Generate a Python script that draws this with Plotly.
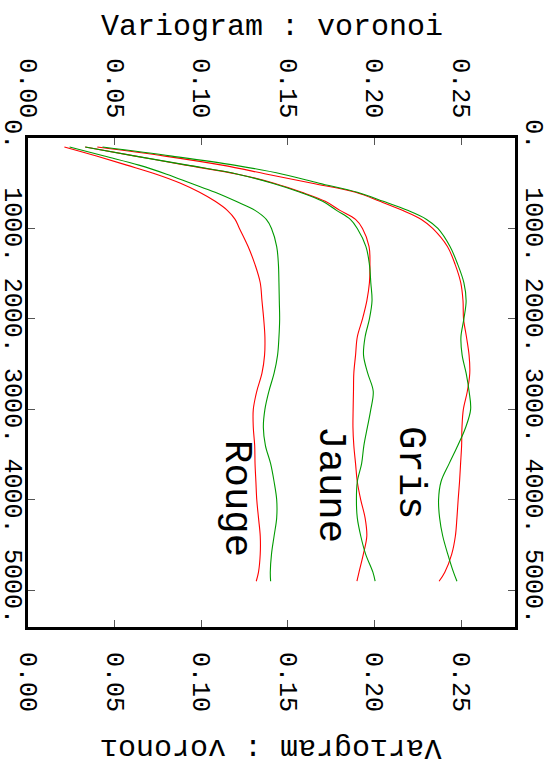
import plotly.graph_objects as go

# lag distances (common to all series)
lags = [100, 200, 300, 400, 500, 600, 700, 800, 900, 1000, 1200, 1400, 1600, 1800, 2000,
        2200, 2400, 2600, 2800, 3000, 3200, 3400, 3600, 3800, 4000, 4200, 4400, 4600, 4800, 4900]

rouge_red = [0.021, 0.0395, 0.057, 0.074, 0.088, 0.099, 0.108, 0.115, 0.1195, 0.122, 0.127, 0.131,
             0.134, 0.135, 0.136, 0.1367, 0.1365, 0.135, 0.132, 0.130, 0.130, 0.1308, 0.131, 0.1315,
             0.132, 0.133, 0.134, 0.134, 0.133, 0.1317]
rouge_green = [0.024, 0.044, 0.064, 0.080, 0.094, 0.108, 0.120, 0.131, 0.1375, 0.1405, 0.1435, 0.1445,
               0.1448, 0.145, 0.1452, 0.1448, 0.144, 0.142, 0.139, 0.1367, 0.1358, 0.137, 0.140, 0.142,
               0.1435, 0.1435, 0.142, 0.1405, 0.1398, 0.140]
jaune_red = [0.033, 0.062, 0.091, 0.121, 0.142, 0.158, 0.1715, 0.180, 0.189, 0.193, 0.1968, 0.1973,
             0.197, 0.1955, 0.193, 0.190, 0.189, 0.188, 0.1878, 0.1876, 0.1875, 0.188, 0.189, 0.190,
             0.192, 0.1945, 0.1955, 0.1935, 0.191, 0.1898]
jaune_green = [0.033, 0.062, 0.092, 0.121, 0.141, 0.157, 0.170, 0.178, 0.186, 0.190, 0.195, 0.197,
               0.1978, 0.1985, 0.197, 0.1945, 0.1936, 0.196, 0.1992, 0.1978, 0.1958, 0.1938, 0.1925,
               0.190, 0.1895, 0.190, 0.192, 0.1948, 0.199, 0.2003]
gris_red = [0.040, 0.079, 0.112, 0.138, 0.164, 0.189, 0.203, 0.216, 0.227, 0.2335, 0.242, 0.2465,
            0.2497, 0.251, 0.2513, 0.253, 0.2545, 0.2549, 0.2535, 0.2512, 0.2504, 0.2502, 0.2496,
            0.249, 0.2482, 0.2475, 0.2466, 0.2445, 0.2405, 0.2372]
gris_green = [0.043, 0.083, 0.119, 0.147, 0.168, 0.190, 0.205, 0.219, 0.230, 0.2365, 0.2435, 0.248,
              0.2515, 0.2528, 0.2515, 0.2498, 0.2505, 0.2528, 0.2545, 0.2554, 0.2525, 0.248, 0.243,
              0.2383, 0.2369, 0.2375, 0.2393, 0.2422, 0.2455, 0.2475]

labels = ["Rouge", "Jaune", "Gris"]
label_pos_value = [0.1199, 0.1742, 0.2205]
label_pos_lag = [3990, 3836, 3704]

value_ticks = [0.0, 0.05, 0.10, 0.15, 0.20, 0.25]
value_ticktext = ["0.00", "0.05", "0.10", "0.15", "0.20", "0.25"]
lag_ticks = [0, 1000, 2000, 3000, 4000, 5000]
lag_ticktext = ["0.", "1000.", "2000.", "3000.", "4000.", "5000."]

title_text = "Variogram : voronoi"

FONT = "Liberation Mono, Courier New, monospace"
RED = "#ff0000"
GREEN = "#009a00"

fig = go.Figure()
red_series = [rouge_red, jaune_red, gris_red]
green_series = [rouge_green, jaune_green, gris_green]
for name, r in zip(labels, red_series):
    fig.add_trace(go.Scatter(x=r, y=lags, mode="lines", name=name + " (red)",
                             line=dict(color=RED, width=1.1, shape="spline"),
                             xaxis="x", yaxis="y", showlegend=False, hoverinfo="skip"))
for name, g in zip(labels, green_series):
    fig.add_trace(go.Scatter(x=g, y=lags, mode="lines", name=name + " (green)",
                             line=dict(color=GREEN, width=1.1, shape="spline"),
                             xaxis="x2", yaxis="y2", showlegend=False, hoverinfo="skip"))

xrange_ = [0.0, 0.281]
yrange_ = [5406, 0]

TICKSIZE = 25
common_x = dict(range=xrange_, tickvals=value_ticks, ticktext=value_ticktext, tickangle=90,
                tickfont=dict(family=FONT, size=TICKSIZE, color="black"), showgrid=False, zeroline=False,
                ticks="inside", ticklen=7, tickwidth=1, tickcolor="#555555", automargin=False)
common_y = dict(range=yrange_, tickvals=lag_ticks, ticktext=lag_ticktext, tickangle=90,
                tickfont=dict(family=FONT, size=TICKSIZE, color="black"), showgrid=False, zeroline=False,
                ticks="inside", ticklen=7, tickwidth=1, tickcolor="#555555", automargin=False)

# plot area spans px 28..515 (x), 138..627 (y)
annotations = []
for t, xv, yv in zip(labels, label_pos_value, label_pos_lag):
    annotations.append(dict(x=xv, y=yv, xref="x", yref="y", text=t, textangle=90, showarrow=False,
                            xanchor="center", yanchor="middle",
                            font=dict(family=FONT, size=39, color="black")))
annotations.append(dict(x=0.5, y=(627 - 27) / 489, xref="paper", yref="paper", text=title_text,
                        showarrow=False, xanchor="center", yanchor="middle",
                        font=dict(family=FONT, size=30, color="black")))
annotations.append(dict(x=0.5, y=(627 - 748) / 489, xref="paper", yref="paper", text=title_text,
                        showarrow=False, textangle=180, xanchor="center", yanchor="middle",
                        font=dict(family=FONT, size=30, color="black")))

fig.update_layout(
    width=551, height=759,
    margin=dict(l=28, r=36, t=138, b=132, autoexpand=False),
    paper_bgcolor="white", plot_bgcolor="white",
    xaxis=dict(side="bottom", anchor="y", showline=True, linewidth=3, linecolor="black", mirror=True,
               ticklabelstandoff=17, **common_x),
    xaxis2=dict(side="top", overlaying="x", anchor="y2", showline=False, ticklabelstandoff=15, **common_x),
    yaxis=dict(side="left", anchor="x", showline=True, linewidth=3, linecolor="black", mirror=True,
               ticklabelstandoff=-10, **common_y),
    yaxis2=dict(side="right", overlaying="y", anchor="x2", showline=False, ticklabelstandoff=5, **common_y),
    annotations=annotations,
    showlegend=False,
)

fig.write_html("out.html", config={"displayModeBar": False},
               post_script="document.body.style.margin='0';")
